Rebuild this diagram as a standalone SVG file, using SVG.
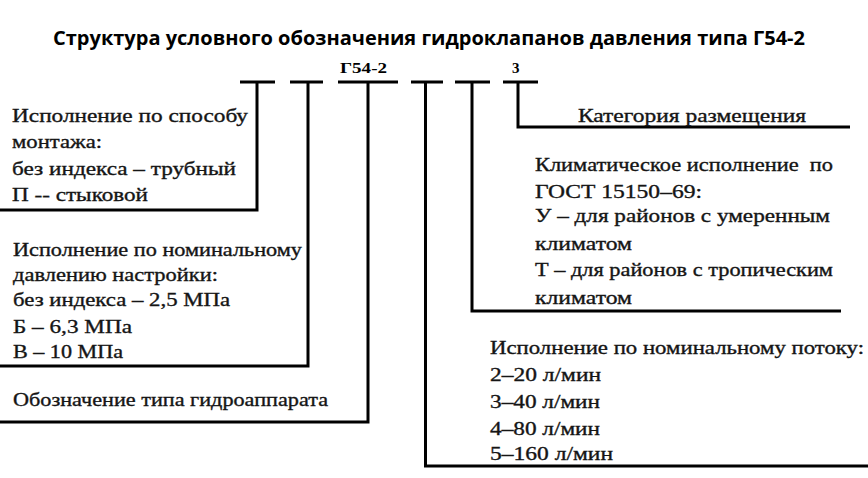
<svg xmlns="http://www.w3.org/2000/svg" width="868" height="478" viewBox="0 0 868 478">
<style>
.t{font-family:"Liberation Serif","Times New Roman",serif;font-size:19px;fill:#151515;stroke:#151515;stroke-width:0.35}
.ttl{font-family:"Open Sans","Noto Sans",sans-serif;font-size:20px;font-weight:bold;fill:#000}
.code{font-family:"Liberation Serif","Times New Roman",serif;font-size:15px;font-weight:bold;fill:#000}
.c{stroke:#000;stroke-width:3;fill:none}
</style>
<rect width="868" height="478" fill="#fff"/>
<g id="title"><text class="ttl" x="53" y="45" textLength="752" lengthAdjust="spacingAndGlyphs">Структура условного обозначения гидроклапанов давления типа Г54-2</text></g>
<g id="code">
<text class="code" x="340" y="73" textLength="47" lengthAdjust="spacingAndGlyphs">Г54-2</text>
<text class="code" x="512" y="73">3</text>
</g>
<g id="connectors">
<path class="c" d="M240 82H275M257 82V210H0"/>
<path class="c" d="M290 82H323M308 82V366H0"/>
<path class="c" d="M338 82H398M368 82V422H0"/>
<path class="c" d="M411 82H443M425.5 82V466H868"/>
<path class="c" d="M455 82H490M472 82V311H841"/>
<path class="c" d="M503 82H538M518 82V127H850"/>
</g>
<g id="montage">
<text class="t" x="12" y="122" textLength="236" lengthAdjust="spacingAndGlyphs">Исполнение по способу</text>
<text class="t" x="12" y="148" textLength="90" lengthAdjust="spacingAndGlyphs">монтажа:</text>
<text class="t" x="12" y="175" textLength="224" lengthAdjust="spacingAndGlyphs">без индекса – трубный</text>
<text class="t" x="12" y="201" textLength="136" lengthAdjust="spacingAndGlyphs">П -- стыковой</text>
</g>
<g id="pressure">
<text class="t" x="13" y="256" textLength="289" lengthAdjust="spacingAndGlyphs">Исполнение по номинальному</text>
<text class="t" x="13" y="281" textLength="205" lengthAdjust="spacingAndGlyphs">давлению настройки:</text>
<text class="t" x="13" y="306" textLength="217" lengthAdjust="spacingAndGlyphs">без индекса – 2,5 МПа</text>
<text class="t" x="13" y="333" textLength="119" lengthAdjust="spacingAndGlyphs">Б – 6,3 МПа</text>
<text class="t" x="13" y="358" textLength="110" lengthAdjust="spacingAndGlyphs">В – 10 МПа</text>
</g>
<g id="type">
<text class="t" x="13" y="406" textLength="315" lengthAdjust="spacingAndGlyphs">Обозначение типа гидроаппарата</text>
</g>
<g id="placement">
<text class="t" x="578" y="122" textLength="228" lengthAdjust="spacingAndGlyphs">Категория размещения</text>
</g>
<g id="climate">
<text class="t" x="535" y="171" textLength="298" lengthAdjust="spacingAndGlyphs" xml:space="preserve">Климатическое исполнение  по</text>
<text class="t" x="535" y="198" textLength="167" lengthAdjust="spacingAndGlyphs">ГОСТ 15150–69:</text>
<text class="t" x="535" y="222" textLength="295" lengthAdjust="spacingAndGlyphs">У – для районов с умеренным</text>
<text class="t" x="535" y="250" textLength="97" lengthAdjust="spacingAndGlyphs">климатом</text>
<text class="t" x="535" y="276" textLength="298" lengthAdjust="spacingAndGlyphs">Т – для районов с тропическим</text>
<text class="t" x="535" y="304" textLength="97" lengthAdjust="spacingAndGlyphs">климатом</text>
</g>
<g id="flow">
<text class="t" x="490" y="354" textLength="374" lengthAdjust="spacingAndGlyphs">Исполнение по номинальному потоку:</text>
<text class="t" x="490" y="381" textLength="111" lengthAdjust="spacingAndGlyphs">2–20 л/мин</text>
<text class="t" x="490" y="408" textLength="110" lengthAdjust="spacingAndGlyphs">3–40 л/мин</text>
<text class="t" x="490" y="435" textLength="110" lengthAdjust="spacingAndGlyphs">4–80 л/мин</text>
<text class="t" x="490" y="460" textLength="123" lengthAdjust="spacingAndGlyphs">5–160 л/мин</text>
</g>
</svg>
